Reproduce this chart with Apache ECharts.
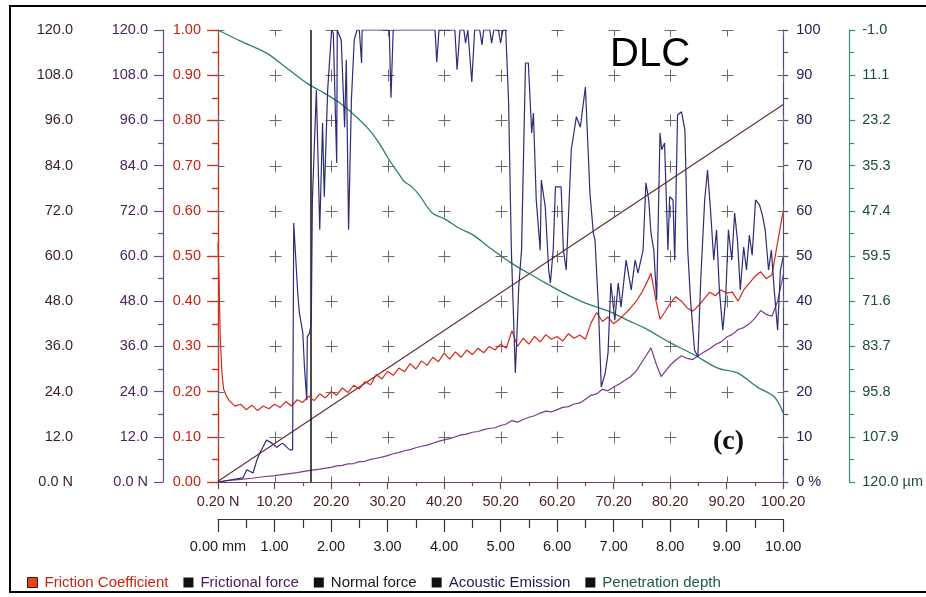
<!DOCTYPE html>
<html>
<head>
<meta charset="utf-8">
<title>DLC scratch test</title>
<script src="https://cdn.jsdelivr.net/npm/echarts@6.0.0/dist/echarts.min.js"></script>
<style>
  html, body { margin: 0; padding: 0; background: #fff; }
  #chart { width: 926px; height: 597px; }
</style>
</head>
<body>
<div id="chart"></div>
<script>
// Scratch test on a DLC coating: progressive load 0.2 -> 100.2 N over 10 mm.

// Friction coefficient vs normal load (N)
const frictionLoad = [0.2,0.4,0.6,0.9,1.2,1.7,2.2,3.2,4.2,5.2,6.2,7.2,8.2,9.2,10.2,11.2,12.2,13.2,14.2,15.2,16.2,17.2,18.2,19.2,20.2,21.2,22.2,23.2,24.2,25.2,26.2,27.2,28.2,29.2,30.2,31.2,32.2,33.2,34.2,35.2,36.2,37.2,38.2,39.2,40.2,41.2,42.2,43.2,44.2,45.2,46.2,47.2,48.2,49.2,50.2,51.2,52.2,53.2,54.2,55.2,56.2,57.2,58.2,59.2,60.2,61.2,62.2,63.2,64.2,65.2,66.2,67.2,68.2,69.2,70.2,71.2,72.2,73.2,74.2,75.2,76.2,76.8,77.7,78.4,79.2,80.2,81.2,82.2,83.2,84.2,85.2,86.2,87.2,88.2,89.2,90.2,91.2,92.2,93.2,94.2,95.2,96.2,97.2,98.2,99.2,100.2];
const frictionCoef = [0.53,0.44,0.32,0.24,0.205,0.19,0.18,0.168,0.172,0.160,0.170,0.158,0.168,0.162,0.172,0.165,0.178,0.168,0.182,0.176,0.190,0.180,0.195,0.186,0.200,0.192,0.208,0.198,0.214,0.206,0.222,0.215,0.238,0.228,0.245,0.236,0.252,0.244,0.262,0.250,0.268,0.258,0.276,0.266,0.285,0.272,0.288,0.276,0.292,0.282,0.296,0.286,0.300,0.292,0.305,0.296,0.335,0.300,0.318,0.305,0.322,0.310,0.326,0.316,0.322,0.312,0.328,0.318,0.325,0.316,0.352,0.375,0.355,0.365,0.350,0.360,0.372,0.385,0.400,0.420,0.445,0.462,0.400,0.360,0.375,0.395,0.410,0.400,0.385,0.378,0.390,0.405,0.420,0.412,0.425,0.418,0.420,0.400,0.425,0.440,0.455,0.465,0.450,0.458,0.530,0.600];

// Frictional force (N) vs normal load (N)
const forceLoad = [0.2,2.2,4.2,6.2,8.2,10.2,12.2,14.2,16.2,18.2,20.2,21.2,22.2,23.2,24.2,25.2,26.2,27.2,28.2,29.2,30.2,31.2,32.2,33.2,34.2,35.2,36.2,37.2,38.2,39.2,40.2,41.2,42.2,43.2,44.2,45.2,46.2,47.2,48.2,49.2,50.2,51.2,52.2,53.2,54.2,55.2,56.2,57.2,58.2,59.2,60.2,61.2,62.2,63.2,64.2,65.2,66.2,67.2,68.2,69.2,70.2,71.2,72.2,73.2,74.2,75.7,76.8,77.8,78.6,79.4,80.2,81.2,82.2,83.2,84.2,85.2,86.2,87.2,88.2,89.2,90.2,91.2,92.2,93.2,94.2,95.2,96.2,97.2,98.2,99.2,100.2];
const frictionalForce = [0.0,0.4,0.7,1.0,1.4,1.7,2.1,2.5,3.0,3.4,3.9,4.3,4.4,4.8,4.9,5.4,5.5,6.0,6.3,6.6,7.0,7.5,7.8,8.3,8.6,9.1,9.5,9.8,10.3,10.8,11.2,11.5,12.0,12.5,12.7,13.2,13.4,13.9,14.2,14.4,15.0,15.4,16.3,15.9,16.6,17.2,17.6,18.3,18.8,18.6,19.2,19.8,20.0,20.7,21.0,22.0,23.0,23.4,24.6,24.2,25.2,26.0,27.0,28.0,29.5,33.0,35.6,31.0,28.0,29.5,31.0,32.4,33.5,32.8,32.5,33.6,34.5,35.4,36.5,37.2,38.5,39.2,40.5,41.0,42.0,43.5,45.5,44.5,44.0,48.0,55.0];

// Acoustic emission (%) vs normal load (N)
const aeLoad = [0.2,4.6,5.3,6.4,7.1,7.6,8.8,9.7,10.6,11.6,12.9,13.4,13.6,14.3,14.6,15.2,15.5,15.9,16.0,16.4,16.7,16.9,17.6,18.2,18.7,19.0,19.6,20.3,20.6,21.2,21.3,22.0,22.6,22.9,23.3,23.8,24.3,24.8,25.2,25.6,25.7,30.5,30.8,31.2,38.6,38.9,39.3,42.1,42.5,43.0,43.7,44.0,44.4,44.7,45.1,45.6,46.5,46.9,47.2,48.3,48.6,49.0,49.8,50.2,50.6,51.1,51.6,52.1,52.8,53.0,53.4,53.9,54.6,55.1,55.7,56.0,56.5,57.2,57.4,58.1,58.7,59.0,59.5,59.9,60.4,60.9,61.3,61.8,62.7,63.6,64.3,65.2,66.0,66.6,66.9,67.5,68.0,68.7,69.2,69.7,70.4,71.0,71.5,72.4,73.3,74.0,74.5,75.4,75.9,76.4,76.8,77.3,77.8,78.4,78.7,79.2,79.8,80.1,80.7,81.0,81.5,82.2,82.8,83.3,83.8,84.5,85.1,85.6,86.3,86.8,87.3,87.9,88.4,88.9,89.5,90.0,90.5,91.1,91.6,92.1,92.6,93.2,93.7,94.2,94.7,95.3,96.0,96.5,97.0,97.6,98.1,98.6,99.2,99.7,100.2];
const aeValue = [0,0.9,2.7,2.0,4.9,6.4,9.3,8.6,7.7,8.6,7.1,7.1,57.3,41.8,37.4,33.0,25.4,18.1,32.1,33.0,35.2,62.4,86.7,55.8,79.4,63.1,86.7,100,99.3,70.6,100,97.8,78.5,93.4,55.8,84.5,97.8,100,100,92.7,100,100,85,100,100,92.9,100,100,91.2,100,100,97.1,100,100,88.5,100,100,96.7,100,100,97.1,100,100,97.1,100,100,84.5,51.3,24.1,29.9,43.1,51.3,92.7,92.7,77.2,81.6,62.4,51.3,66.8,60.8,46.9,44.0,51.3,65.3,65.3,65.3,51.3,46.9,73.5,80.8,78.5,87.4,63.9,55.1,53.5,38.7,21.0,24.1,28.5,44.0,35.8,44.0,38.7,49.1,42.5,49.1,46.2,51.3,66.2,62.4,55.1,51.3,40.3,77.2,73.5,75.0,51.3,63.1,62.4,49.1,81.2,81.9,77.9,51.3,40.3,29.2,27.7,44.7,62.4,69.0,60.8,49.1,55.8,42.5,33.6,40.3,55.8,49.1,59.5,53.5,42.5,52.0,46.9,54.6,50.2,62.4,61.3,59.1,55.8,46.9,51.3,42.5,33.6,46.9,49.8];

// Penetration depth (µm) vs normal load (N)
const depthLoad = [0.2,4.2,8.8,12.2,14.6,16.4,19.0,21.7,24.7,27.0,28.7,30.5,32.2,33.1,34.5,35.8,38.1,40.2,42.8,45.4,48.1,52.1,55.0,58.1,61.5,65.2,69.7,72.8,75.7,80.3,84.5,88.6,92.1,95.6,98.6,100.2];
const depthValue = [-1.0,2.0,5.2,9.0,11.8,13.7,15.9,18.5,22.3,25.8,29.3,33.8,37.5,39.5,41.0,43.2,48.0,49.5,52.0,53.9,57.1,61.4,64.0,66.7,69.5,72.1,74.5,76.8,78.8,82.8,86.0,89.5,90.8,94.6,97.2,101.5];

// Normal force ramp (N) vs normal load (N)
const normalLoad = [0.2, 100.2];
const normalForce = [0.2, 100.2];

// Critical load marker (N)
const criticalLoad = 16.6;

// Axis ranges and tick steps
const loadMin = 0.2, loadMax = 100.2, loadStep = 10;
const distMin = 0, distMax = 10, distStep = 1;
const forceMax = 120, forceStep = 12;
const coefMax = 1, coefStep = 0.1;
const aeMax = 100, aeStep = 10;
const depthMin = -1, depthMax = 120, depthStep = 12.1;

const zip = (xs, ys) => xs.map((x, i) => [x, ys[i]]);

// Grid crosses at every major load / coefficient tick
const crossPoints = [];
for (let i = 0; i <= Math.round((loadMax - loadMin) / loadStep); i++) {
  for (let j = 0; j <= Math.round(coefMax / coefStep); j++) {
    crossPoints.push([loadMin + i * loadStep, j * coefStep]);
  }
}

const FONT = '"Liberation Sans", Arial, sans-serif';
const LABEL_SIZE = 14.5;

function leftForceAxis(offset, lineColor, labelColor) {
  return {
    type: 'value', position: 'left', offset: offset,
    min: 0, max: forceMax, interval: forceStep,
    axisLine: { show: true, lineStyle: { color: lineColor, width: 1.2 } },
    axisTick: { show: true, inside: false, length: 9, lineStyle: { color: lineColor, width: 1.2 } },
    minorTick: { show: true, splitNumber: 2, length: 5, lineStyle: { color: lineColor, width: 1.2 } },
    splitLine: { show: false },
    axisLabel: {
      margin: 15, color: labelColor, fontSize: LABEL_SIZE, fontFamily: FONT,
      showMinLabel: true, showMaxLabel: true,
      formatter: v => (v === 0 ? '0.0 N' : v.toFixed(1))
    }
  };
}

const chart = echarts.init(document.getElementById('chart'), null, { renderer: 'canvas' });

const option = {
  animation: false,
  backgroundColor: '#ffffff',
  grid: { left: 218, right: 140, top: 30, bottom: 115, containLabel: false },
  xAxis: [
    {
      // normal load scale, carries the data
      type: 'value', position: 'bottom', offset: 0,
      min: loadMin, max: loadMax, interval: loadStep,
      axisLine: { show: true, onZero: false, lineStyle: { color: '#6e4545', width: 1.2 } },
      axisTick: { show: true, length: 7, lineStyle: { color: '#6e4545', width: 1.2 } },
      minorTick: { show: true, splitNumber: 2, length: 4, lineStyle: { color: '#6e4545', width: 1.2 } },
      splitLine: { show: false },
      axisLabel: {
        margin: 12, color: '#4a1e1e', fontSize: LABEL_SIZE, fontFamily: FONT,
        showMinLabel: true, showMaxLabel: true,
        formatter: v => (Math.abs(v - loadMin) < 1e-6 ? loadMin.toFixed(2) + ' N' : v.toFixed(2))
      }
    },
    {
      // scratch distance scale
      type: 'value', position: 'bottom', offset: 37,
      min: distMin, max: distMax, interval: distStep,
      axisLine: { show: true, onZero: false, lineStyle: { color: '#333333', width: 1.2 } },
      axisTick: { show: true, length: 13, lineStyle: { color: '#333333', width: 1.2 } },
      minorTick: { show: true, splitNumber: 2, length: 9, lineStyle: { color: '#333333', width: 1.2 } },
      splitLine: { show: false },
      axisLabel: {
        margin: 20, color: '#1a1a1a', fontSize: LABEL_SIZE, fontFamily: FONT,
        showMinLabel: true, showMaxLabel: true,
        formatter: v => (v === 0 ? '0.00 mm' : v.toFixed(2))
      }
    }
  ],
  yAxis: [
    leftForceAxis(130, '#5e3b3b', '#3b1f1f'),   // normal force
    leftForceAxis(55, '#6b4c8a', '#4a2363'),    // frictional force
    {
      // friction coefficient
      type: 'value', position: 'left', offset: 0,
      min: 0, max: coefMax, interval: coefStep,
      axisLine: { show: true, onZero: false, lineStyle: { color: '#e0281a', width: 1.2 } },
      axisTick: { show: true, length: 11, lineStyle: { color: '#e0281a', width: 1.2 } },
      minorTick: { show: true, splitNumber: 2, length: 6, lineStyle: { color: '#e0281a', width: 1.2 } },
      splitLine: { show: false },
      axisLabel: {
        margin: 17, color: '#cc1f0f', fontSize: LABEL_SIZE, fontFamily: FONT,
        showMinLabel: true, showMaxLabel: true,
        formatter: v => v.toFixed(2)
      }
    },
    {
      // acoustic emission
      type: 'value', position: 'right', offset: 0,
      min: 0, max: aeMax, interval: aeStep,
      axisLine: { show: true, onZero: false, lineStyle: { color: '#4a4a80', width: 1.2 } },
      axisTick: { show: true, length: 5, lineStyle: { color: '#4a4a80', width: 1.2 } },
      minorTick: { show: true, splitNumber: 2, length: 5, lineStyle: { color: '#4a4a80', width: 1.2 } },
      splitLine: { show: false },
      axisLabel: {
        margin: 13, color: '#22224d', fontSize: LABEL_SIZE, fontFamily: FONT,
        showMinLabel: true, showMaxLabel: true,
        formatter: v => (v === 0 ? '0 %' : String(v))
      }
    },
    {
      // penetration depth, downwards
      type: 'value', position: 'right', offset: 66, inverse: true,
      min: depthMin, max: depthMax, interval: depthStep,
      axisLine: { show: true, onZero: false, lineStyle: { color: '#3d8a7a', width: 1.2 } },
      axisTick: { show: true, length: 6, lineStyle: { color: '#3d8a7a', width: 1.2 } },
      minorTick: { show: true, splitNumber: 2, length: 5, lineStyle: { color: '#3d8a7a', width: 1.2 } },
      splitLine: { show: false },
      axisLabel: {
        margin: 13, color: '#1d4a3e', fontSize: LABEL_SIZE, fontFamily: FONT,
        showMinLabel: true, showMaxLabel: true,
        formatter: v => (Math.abs(v - depthMax) < 1e-6 ? depthMax.toFixed(1) + ' µm' : v.toFixed(1))
      }
    }
  ],
  legend: {
    left: 22, top: 570, orient: 'horizontal',
    itemWidth: 10, itemHeight: 10, itemGap: 15,
    textStyle: { fontSize: 15, fontFamily: FONT, padding: [0, 0, 0, 2] },
    data: [
      { name: 'Friction Coefficient', icon: 'rect', itemStyle: { color: '#e8401c', borderColor: '#3a1a10', borderWidth: 1 }, textStyle: { color: '#d0200f' } },
      { name: 'Frictional force', icon: 'rect', itemStyle: { color: '#111111', borderWidth: 0 }, textStyle: { color: '#4a1a5a' } },
      { name: 'Normal force', icon: 'rect', itemStyle: { color: '#111111', borderWidth: 0 }, textStyle: { color: '#1a1a1a' } },
      { name: 'Acoustic Emission', icon: 'rect', itemStyle: { color: '#111111', borderWidth: 0 }, textStyle: { color: '#1c1c50' } },
      { name: 'Penetration depth', icon: 'rect', itemStyle: { color: '#111111', borderWidth: 0 }, textStyle: { color: '#1f5a40' } }
    ]
  },
  series: [
    {
      name: 'grid crosses', type: 'custom', xAxisIndex: 0, yAxisIndex: 2, clip: true, silent: true, z: 1,
      data: crossPoints,
      renderItem: (params, api) => {
        const p = api.coord([api.value(0), api.value(1)]);
        const x = Math.round(p[0]) + 0.5, y = Math.round(p[1]) + 0.5;
        const s = { stroke: '#6a6a6a', lineWidth: 1 };
        return {
          type: 'group',
          children: [
            { type: 'line', shape: { x1: x - 6, y1: y, x2: x + 6, y2: y }, style: s },
            { type: 'line', shape: { x1: x, y1: y - 6, x2: x, y2: y + 6 }, style: s }
          ]
        };
      }
    },
    {
      name: 'Normal force', type: 'line', xAxisIndex: 0, yAxisIndex: 0, z: 3,
      data: zip(normalLoad, normalForce), showSymbol: false,
      lineStyle: { color: '#6a2c2c', width: 1.2 }, itemStyle: { color: '#6a2c2c' }
    },
    {
      name: 'Penetration depth', type: 'line', xAxisIndex: 0, yAxisIndex: 4, z: 3,
      data: zip(depthLoad, depthValue), showSymbol: false, smooth: 0.3,
      lineStyle: { color: '#2e7d70', width: 1.3 }, itemStyle: { color: '#2e7d70' }
    },
    {
      name: 'Frictional force', type: 'line', xAxisIndex: 0, yAxisIndex: 1, z: 4,
      data: zip(forceLoad, frictionalForce), showSymbol: false,
      lineStyle: { color: '#7a3a8c', width: 1.2 }, itemStyle: { color: '#7a3a8c' }
    },
    {
      name: 'Friction Coefficient', type: 'line', xAxisIndex: 0, yAxisIndex: 2, z: 5,
      data: zip(frictionLoad, frictionCoef), showSymbol: false,
      lineStyle: { color: '#d8261a', width: 1.2 }, itemStyle: { color: '#d8261a' },
      markLine: {
        silent: true, symbol: 'none', label: { show: false },
        lineStyle: { color: '#111111', width: 1.5, type: 'solid' },
        data: [{ xAxis: criticalLoad }]
      }
    },
    {
      name: 'Acoustic Emission', type: 'line', xAxisIndex: 0, yAxisIndex: 3, z: 6,
      data: zip(aeLoad, aeValue), showSymbol: false,
      lineStyle: { color: '#2c2c78', width: 1.2 }, itemStyle: { color: '#2c2c78' }
    }
  ],
  graphic: [
    { type: 'rect', z: 100, shape: { x: 10, y: 6, width: 940, height: 586 }, style: { fill: 'none', stroke: '#000', lineWidth: 2 }, silent: true },
    { type: 'text', z: 100, left: 610, top: 35, style: { text: 'DLC', font: '40px ' + FONT, fill: '#000' }, silent: true },
    { type: 'text', z: 100, left: 711, top: 427, style: { text: '(c)', font: 'bold 28px "Liberation Serif", "Times New Roman", serif', fill: '#111', backgroundColor: '#ffffff', padding: [1, 2, 1, 2] }, silent: true }
  ]
};

chart.setOption(option);
</script>
</body>
</html>
